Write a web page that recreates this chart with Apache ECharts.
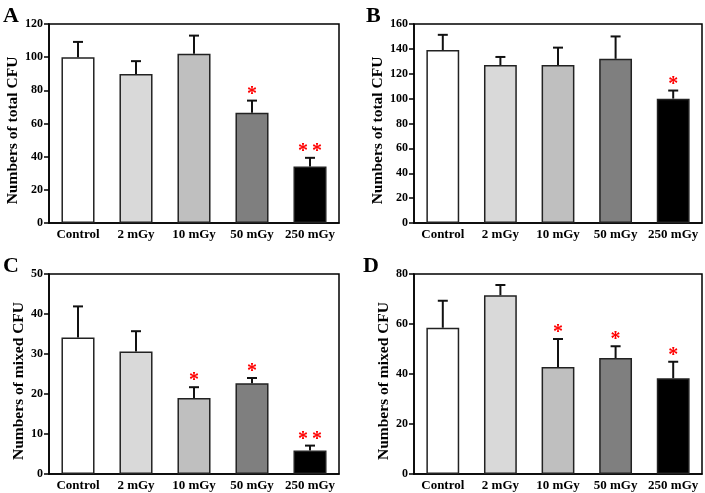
<!DOCTYPE html>
<html>
<head>
<meta charset="utf-8">
<script src="https://cdn.jsdelivr.net/npm/echarts@6/dist/echarts.min.js"></script>
<style>
html, body { margin: 0; padding: 0; background: #fff; }
#chart { width: 705px; height: 493px; }
</style>
</head>
<body>
<div id="chart"></div>
<script>
var categories = ['Control', '2 mGy', '10 mGy', '50 mGy', '250 mGy'];
var barColors = ['#ffffff', '#d9d9d9', '#bfbfbf', '#7f7f7f', '#000000'];

// panel A: total CFU
var meanA = [100, 89.8, 102, 66.5, 34];
var sdA = [9.2, 7.8, 11, 7.3, 5.3];
var starsA = ['', '', '', '*', '**'];
// panel B: total CFU
var meanB = [139, 127, 127, 132, 100];
var sdB = [12.3, 6.5, 14, 18, 6.5];
var starsB = ['', '', '', '', '*'];
// panel C: mixed CFU
var meanC = [34.1, 30.6, 19, 22.7, 5.9];
var sdC = [7.8, 5.1, 2.7, 1.3, 1.2];
var starsC = ['', '', '*', '*', '**'];
// panel D: mixed CFU
var meanD = [58.5, 71.5, 42.8, 46.4, 38.3];
var sdD = [10.8, 4.1, 11.2, 4.7, 6.6];
var starsD = ['', '', '*', '*', '*'];

var font = '"Liberation Serif", "Times New Roman", serif';

var panels = [
    {letter: 'A', mean: meanA, sd: sdA, stars: starsA, max: 120, step: 20, title: 'Numbers of total CFU',
        grid: {left: 49, top: 24, width: 290, height: 199}, gap: 19, letterX: 3},
    {letter: 'B', mean: meanB, sd: sdB, stars: starsB, max: 160, step: 20, title: 'Numbers of total CFU',
        grid: {left: 414, top: 24, width: 288, height: 199}, gap: 22, letterX: 366},
    {letter: 'C', mean: meanC, sd: sdC, stars: starsC, max: 50, step: 10, title: 'Numbers of mixed CFU',
        grid: {left: 49, top: 274, width: 290, height: 200}, gap: 19, letterX: 3},
    {letter: 'D', mean: meanD, sd: sdD, stars: starsD, max: 80, step: 20, title: 'Numbers of mixed CFU',
        grid: {left: 414, top: 274, width: 288, height: 200}, gap: 22, letterX: 363}
];

function errorBar(params, api) {
    var top = api.coord([api.value(0), api.value(1) + api.value(2)]);
    var base = api.coord([api.value(0), api.value(1)]);
    var star = api.value(3);
    var children = [
        {type: 'line', shape: {x1: base[0], y1: base[1], x2: top[0], y2: top[1]},
            style: {stroke: '#111', lineWidth: 2}},
        {type: 'line', shape: {x1: top[0] - 5, y1: top[1], x2: top[0] + 5, y2: top[1]},
            style: {stroke: '#111', lineWidth: 2}}
    ];
    if (star) {
        children.push({type: 'text', x: top[0], y: top[1] + 4,
            style: {text: star.split('').join('\u2009'), fill: '#ff0000', font: 'bold 20px ' + font,
                align: 'center', verticalAlign: 'bottom'}});
    }
    return {type: 'group', children: children};
}

var grids = [], xAxes = [], yAxes = [], series = [], graphics = [];
panels.forEach(function (p, i) {
    grids.push(Object.assign({show: true, borderColor: '#000', borderWidth: 1.5, backgroundColor: '#fff'}, p.grid));
    xAxes.push({
        type: 'category', gridIndex: i, data: categories,
        axisLine: {lineStyle: {color: '#000', width: 1.5}},
        axisTick: {show: false},
        axisLabel: {color: '#000', fontFamily: font, fontWeight: 'bold', fontSize: 13, margin: 5, interval: 0}
    });
    yAxes.push({
        type: 'value', gridIndex: i, min: 0, max: p.max, interval: p.step,
        name: p.title, nameLocation: 'middle', nameGap: p.gap,
        nameTextStyle: {color: '#000', fontFamily: font, fontWeight: 'bold', fontSize: 15.5, padding: [0, 14, 0, 0]},
        axisLine: {show: true, lineStyle: {color: '#000', width: 1.5}},
        axisTick: {show: true, length: 5, lineStyle: {color: '#000', width: 1.5}},
        axisLabel: {color: '#000', fontFamily: font, fontWeight: 'bold', fontSize: 12, margin: 6},
        splitLine: {show: false}
    });
    series.push({
        type: 'bar', xAxisIndex: i, yAxisIndex: i, barWidth: '57%',
        data: p.mean.map(function (v, k) {
            return {value: v, itemStyle: {color: barColors[k]}};
        }),
        itemStyle: {borderColor: '#222', borderWidth: 1.5},
        silent: true
    });
    series.push({
        type: 'custom', xAxisIndex: i, yAxisIndex: i, renderItem: errorBar,
        encode: {x: 0, y: 1},
        data: p.mean.map(function (v, k) { return [k, v, p.sd[k], p.stars[k]]; }),
        z: 5, silent: true
    });
    graphics.push({
        type: 'text', left: p.letterX, top: p.grid.top - 19,
        style: {text: p.letter, font: 'bold 22px ' + font, fill: '#000'}
    });
});

var chart = echarts.init(document.getElementById('chart'));
chart.setOption({
    animation: false,
    backgroundColor: '#fff',
    grid: grids,
    xAxis: xAxes,
    yAxis: yAxes,
    series: series,
    graphic: graphics
});
</script>
</body>
</html>
